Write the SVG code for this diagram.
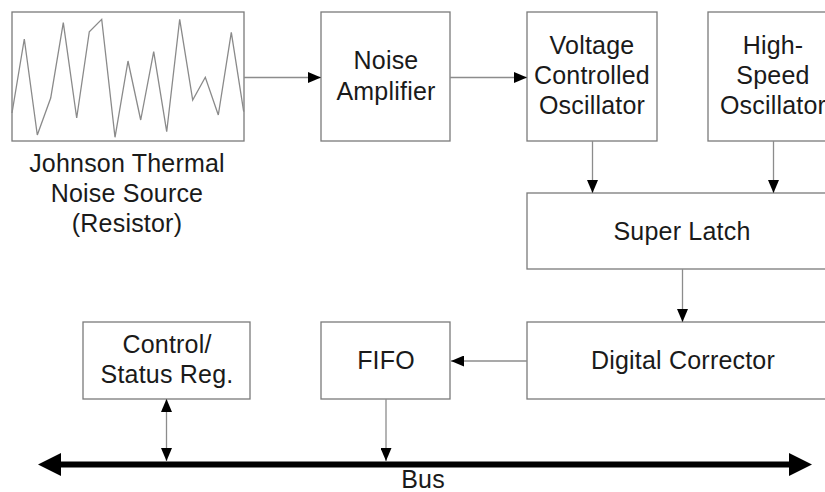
<svg xmlns="http://www.w3.org/2000/svg" width="825" height="492" viewBox="0 0 825 492">
<style>
.box{fill:#fff;stroke:#7a7a7a;stroke-width:1.3}
.lbl{font-family:"Liberation Sans",Arial,sans-serif;font-size:25px;letter-spacing:0.2px;fill:#1a1a1a;text-anchor:middle}
.con{stroke:#8c8c8c;stroke-width:1.3;fill:none}
.wave{stroke:#8a8a8a;stroke-width:1.3;fill:none;stroke-linejoin:miter}
</style>
<defs>
<marker id="ah" markerUnits="userSpaceOnUse" markerWidth="13" markerHeight="11" refX="13" refY="5.5" orient="auto">
<path d="M0,0 L13,5.5 L0,11 z" fill="#000"/>
</marker>
<marker id="ahs" markerUnits="userSpaceOnUse" markerWidth="13" markerHeight="11" refX="13" refY="5.5" orient="auto-start-reverse">
<path d="M0,0 L13,5.5 L0,11 z" fill="#000"/>
</marker>
</defs>
<rect width="825" height="492" fill="#fff"/>

<g id="noise-source">
<rect class="box" x="12" y="12" width="232" height="129"/>
<polyline class="wave" points="12,113 24.3,39 37.3,135 50.7,98 63.3,22.7 76.7,118 89.3,31.7 101.7,19.3 115,137.3 128,61 140.7,120 153.7,51.7 166.7,131.7 179.7,19.3 192.7,100 205.3,77.3 218.3,115 231.3,32.3 243.7,111.7"/>
<text class="lbl" x="127" y="172">Johnson Thermal</text>
<text class="lbl" x="127" y="202">Noise Source</text>
<text class="lbl" x="127" y="232">(Resistor)</text>
</g>

<g id="noise-amplifier">
<rect class="box" x="321" y="12" width="129" height="129"/>
<text class="lbl" x="386" y="69">Noise</text>
<text class="lbl" x="386" y="100">Amplifier</text>
</g>

<g id="vco">
<rect class="box" x="527" y="12" width="130" height="129"/>
<text class="lbl" x="592" y="54">Voltage</text>
<text class="lbl" x="592" y="84">Controlled</text>
<text class="lbl" x="592" y="114">Oscillator</text>
</g>

<g id="hso">
<rect class="box" x="708" y="12" width="130" height="129"/>
<text class="lbl" x="773" y="54">High-</text>
<text class="lbl" x="773" y="84">Speed</text>
<text class="lbl" x="773" y="114">Oscillator</text>
</g>

<g id="super-latch">
<rect class="box" x="527" y="193" width="310" height="76"/>
<text class="lbl" x="682" y="240">Super Latch</text>
</g>

<g id="digital-corrector">
<rect class="box" x="527" y="322" width="310" height="77"/>
<text class="lbl" x="683" y="369">Digital Corrector</text>
</g>

<g id="fifo">
<rect class="box" x="321" y="322" width="129" height="77"/>
<text class="lbl" x="386" y="369">FIFO</text>
</g>

<g id="control-status">
<rect class="box" x="83" y="322" width="167" height="77"/>
<text class="lbl" x="167" y="353">Control/</text>
<text class="lbl" x="167" y="383">Status Reg.</text>
</g>

<g id="connectors">
<line class="con" x1="244" y1="77.5" x2="321" y2="77.5" marker-end="url(#ah)"/>
<line class="con" x1="450" y1="77.5" x2="527" y2="77.5" marker-end="url(#ah)"/>
<line class="con" x1="592.5" y1="141" x2="592.5" y2="193" marker-end="url(#ah)"/>
<line class="con" x1="773.5" y1="141" x2="773.5" y2="193" marker-end="url(#ah)"/>
<line class="con" x1="682.5" y1="269" x2="682.5" y2="322" marker-end="url(#ah)"/>
<line class="con" x1="527" y1="361" x2="451" y2="361" marker-end="url(#ah)"/>
<line class="con" x1="386" y1="399" x2="386" y2="461" marker-end="url(#ah)"/>
<line class="con" x1="166.5" y1="399" x2="166.5" y2="461" marker-start="url(#ahs)" marker-end="url(#ah)"/>
<g id="bus">
<line x1="58" y1="464.5" x2="792" y2="464.5" stroke="#000" stroke-width="6"/>
<polygon points="38,464.5 61,453 61,476" fill="#000"/>
<polygon points="812,464.5 789,453 789,476" fill="#000"/>
<text class="lbl" x="423" y="488">Bus</text>
</g>
</g>
</svg>
